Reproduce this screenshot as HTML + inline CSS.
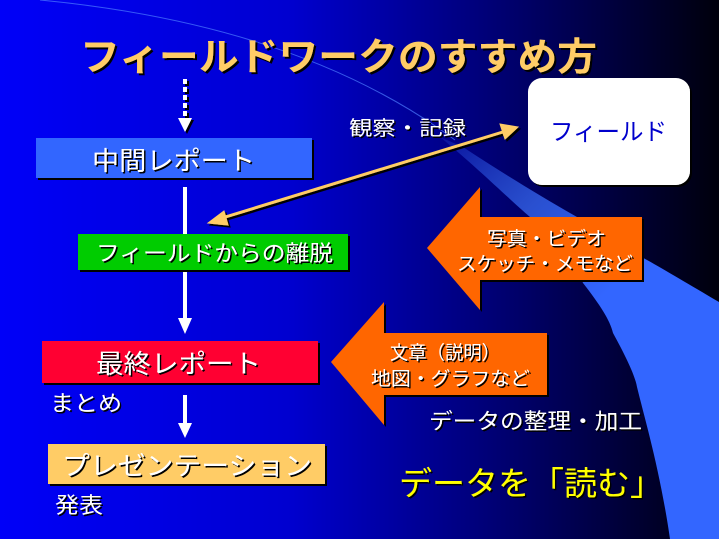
<!DOCTYPE html>
<html><head><meta charset="utf-8"><style>
html,body{margin:0;padding:0;width:719px;height:539px;overflow:hidden;}
svg text{font-family:"Liberation Sans","Noto Sans CJK JP",sans-serif;}
</style></head><body>
<svg width="719" height="539" viewBox="0 0 719 539" xmlns="http://www.w3.org/2000/svg">
<defs>
<linearGradient id="bg" x1="0" y1="0" x2="1" y2="0">
<stop offset="0" stop-color="#0000f8"/>
<stop offset="0.4" stop-color="#0000d0"/>
<stop offset="0.7" stop-color="#000070"/>
<stop offset="1" stop-color="#00000c"/>
</linearGradient>
<linearGradient id="sw" x1="440" y1="137" x2="600" y2="300" gradientUnits="userSpaceOnUse">
<stop offset="0" stop-color="#3366ff" stop-opacity="0.15"/>
<stop offset="0.5" stop-color="#2a50d0"/>
<stop offset="1" stop-color="#3366ff"/>
</linearGradient>
<filter id="sh" x="-10%" y="-10%" width="130%" height="140%"><feDropShadow dx="2" dy="2" stdDeviation="0" flood-color="#000"/></filter>
<filter id="ts" x="-5%" y="-10%" width="115%" height="130%"><feDropShadow dx="1.5" dy="1.5" stdDeviation="0" flood-color="#000"/></filter>
</defs>
<rect width="719" height="539" fill="url(#bg)"/>
<path d="M40,0 Q300,25 455,140" fill="none" stroke="#4d7dff" stroke-width="1" opacity="0.7"/>
<path d="M440,137 C480,170 510,200 530,217 C560,245 575,265 583,283 C600,305 610,320 613,333 C625,355 635,375 637,387 C645,420 660,470 670,539 L719,539 L719,302 C690,285 665,270 647,260 C620,245 595,230 577,217 C530,190 490,165 463,147 Z" fill="url(#sw)"/>
<text x="80" y="70" font-size="38" font-weight="bold" fill="#ffcc66" filter="url(#sh)" textLength="517" lengthAdjust="spacingAndGlyphs">フィールドワークのすすめ方</text>
<g fill="#fff" filter="url(#sh)">
<rect x="183" y="79" width="4" height="5"/>
<rect x="183" y="87" width="4" height="5"/>
<rect x="183" y="95" width="4" height="5"/>
<rect x="183" y="103" width="4" height="5"/>
<rect x="183" y="111" width="4" height="5"/>
<polygon points="178,118 192,118 185,132"/>
</g>
<rect x="36" y="138" width="276" height="40" fill="#3366ff" filter="url(#sh)"/>
<text x="92" y="170" font-size="26" fill="#fff" filter="url(#ts)" textLength="163" lengthAdjust="spacingAndGlyphs">中間レポート</text>
<rect x="183" y="187" width="4" height="133" fill="#fff"/>
<polygon points="178,318 192,318 185,334" fill="#fff"/>
<rect x="78" y="234" width="270" height="36" fill="#00cc00" filter="url(#sh)"/>
<text x="96" y="261" font-size="22" fill="#fff" filter="url(#ts)" textLength="237" lengthAdjust="spacingAndGlyphs">フィールドからの離脱</text>
<rect x="42" y="341" width="276" height="42" fill="#ff0033" filter="url(#sh)"/>
<text x="96" y="373" font-size="26" fill="#fff" filter="url(#ts)" textLength="165" lengthAdjust="spacingAndGlyphs">最終レポート</text>
<text x="50" y="411" font-size="22" fill="#fff" filter="url(#ts)" textLength="72" lengthAdjust="spacingAndGlyphs">まとめ</text>
<rect x="183" y="395" width="4" height="30" fill="#fff"/>
<polygon points="178,423 192,423 185,438" fill="#fff"/>
<rect x="48" y="444" width="277" height="40" fill="#ffcc66" filter="url(#sh)"/>
<text x="62" y="475" font-size="26" fill="#fff" filter="url(#ts)" textLength="250" lengthAdjust="spacingAndGlyphs">プレゼンテーション</text>
<text x="55" y="513" font-size="22" fill="#fff" filter="url(#ts)" textLength="48" lengthAdjust="spacingAndGlyphs">発表</text>
<rect x="528" y="78" width="162" height="107" rx="14" fill="#fff" filter="url(#sh)"/>
<text x="550" y="140" font-size="24" fill="#0000cc" textLength="117" lengthAdjust="spacingAndGlyphs">フィールド</text>
<text x="349" y="135" font-size="20" fill="#fff" filter="url(#ts)" textLength="117" lengthAdjust="spacingAndGlyphs">観察・記録</text>
<g filter="url(#sh)" fill="#ffcc66" stroke="#ffcc66">
<line x1="222" y1="218" x2="506" y2="131" stroke-width="3"/>
<polygon points="208,223 224,211 228,225"/>
<polygon points="518,127 500,124 505,139"/>
</g>
<polygon points="427,248 480,187 480,217 642,217 642,280 480,280 480,310" fill="#ff6600" filter="url(#sh)"/>
<text x="487" y="245" font-size="19" fill="#fff" filter="url(#ts)" textLength="119" lengthAdjust="spacingAndGlyphs">写真・ビデオ</text>
<text x="457" y="270" font-size="19" fill="#fff" filter="url(#ts)" textLength="176" lengthAdjust="spacingAndGlyphs">スケッチ・メモなど</text>
<polygon points="331,362 384,302 384,333 547,333 547,395 384,395 384,425" fill="#ff6600" filter="url(#sh)"/>
<text x="390" y="359" font-size="19" fill="#fff" filter="url(#ts)" textLength="110" lengthAdjust="spacingAndGlyphs">文章（説明）</text>
<text x="371" y="385" font-size="19" fill="#fff" filter="url(#ts)" textLength="159" lengthAdjust="spacingAndGlyphs">地図・グラフなど</text>
<text x="429" y="429" font-size="22" fill="#fff" filter="url(#ts)" textLength="213" lengthAdjust="spacingAndGlyphs">データの整理・加工</text>
<text x="399" y="495" font-size="33" fill="#ffff00" filter="url(#ts)" textLength="264" lengthAdjust="spacingAndGlyphs">データを「読む」</text>
</svg>
</body></html>
